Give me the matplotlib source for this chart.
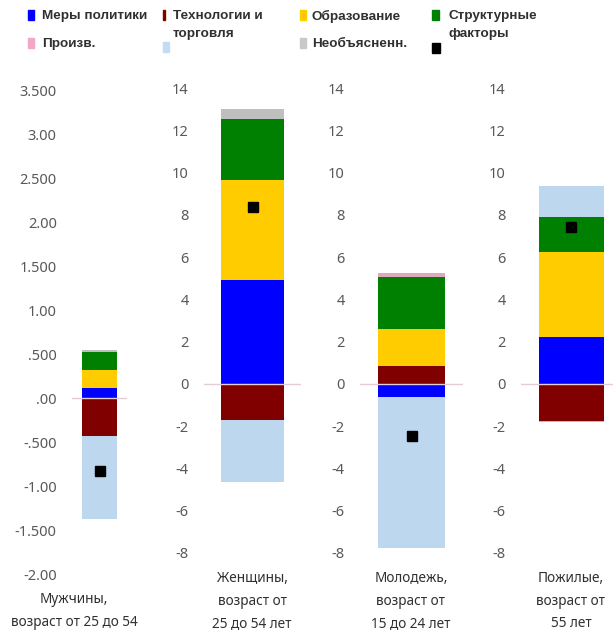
import numpy as np
import matplotlib.pyplot as plt
from matplotlib.patches import Rectangle

plt.rcParams['font.family'] = ['Noto Sans', 'DejaVu Sans']
plt.rcParams['axes.unicode_minus'] = False

# Data (percentage points)
groups = ['Мужчины,\nвозраст от 25 до 54',
          'Женщины,\nвозраст от\n25 до 54 лет',
          'Молодежь,\nвозраст от\n15 до 24 лет',
          'Пожилые,\nвозраст от\n55 лет']
policy = [0.11, 4.90, -0.63, 2.21]
tech = [-0.43, -1.72, 0.83, -1.77]
education = [0.21, 4.76, 1.79, 4.01]
structural = [0.20, 2.87, 2.42, 1.67]
productivity = [0.0, 0.0, 0.23, -0.05]
trade = [-0.95, -2.94, -7.14, 1.45]
unexplained = [0.03, 0.47, 0.0, 0.0]
total = [-0.825, 8.35, -2.45, 7.40]

series = [policy, tech, education, structural, productivity, trade, unexplained]
colors = ['#0000ff', '#800000', '#ffcc00', '#008000', '#e0a8bc', '#bdd7ee', '#bfbfbf']

W, H = 613, 631
fig = plt.figure(figsize=(W / 100, H / 100), dpi=100)

# axes boxes in pixels: x0, x1, ytop, ybottom
boxes = [(72, 127, 90, 574), (204, 301, 88, 553), (360, 463, 88, 553), (521, 621, 88, 553)]
label_x = [74, 252, 411, 571]

ticks1 = [3.5, 3.0, 2.5, 2.0, 1.5, 1.0, 0.5, 0.0, -0.5, -1.0, -1.5, -2.0]
ticklab1 = ['3.500', '3.00', '2.500', '2.00', '1.500', '1.00', '.500', '.00',
            '-.500', '-1.00', '-1.500', '-2.00']
ticks2 = list(range(-8, 15, 2))

for i in range(4):
    x0, x1, yt, yb = boxes[i]
    ax = fig.add_axes([x0 / W, 1 - yb / H, (x1 - x0) / W, (yb - yt) / H])
    pos, neg = 0.0, 0.0
    for s, c in zip(series, colors):
        v = s[i]
        if v >= 0:
            ax.bar(0, v, 0.65, bottom=pos, color=c, zorder=2)
            pos += v
        else:
            ax.bar(0, v, 0.65, bottom=neg, color=c, zorder=2)
            neg += v
    ax.axhline(0, color='#e3ccd6', lw=1, zorder=3)
    ax.plot(0, total[i], 's', color='black', ms=7, zorder=4)
    ax.set_xlim(-0.5, 0.5)
    if i == 0:
        ax.set_ylim(-2.0, 3.5)
        ax.set_yticks(ticks1)
        ax.set_yticklabels(ticklab1)
    else:
        ax.set_ylim(-8, 14)
        ax.set_yticks(ticks2)
    ax.set_xticks([])
    ax.tick_params(axis='y', length=0, pad=11, labelsize=10.5, labelcolor='#595959')
    for sp in ax.spines.values():
        sp.set_visible(False)
    ax.patch.set_alpha(0)
    ybase = 600 if i == 0 else 579
    fig.text(label_x[i] / W, 1 - (ybase - 8) / H, groups[i], ha='center', va='top',
             fontsize=9.8, color='#303030', linespacing=1.7)

# Legend drawn by hand (two rows, four columns)
leg = [
    (28, 15, 6, 10, colors[0], 'Меры политики', 42),
    (163, 15, 2, 10, colors[1], 'Технологии и\nторговля', 173),
    (300, 15, 6, 10, colors[2], 'Образование', 312),
    (432, 15, 7, 10, colors[3], 'Структурные\nфакторы', 448),
    (28, 43, 6, 10, '#f4a6c8', 'Произв.', 42),
    (163, 47, 6, 10, '#c4dcf2', '', 173),
    (300, 43, 6, 10, '#c8c8c8', 'Необъясненн.', 312),
    (432, 48, 8, 9, '#000000', '', 448),
]
for px, py, pw, ph, c, lab, tx in leg:
    fig.add_artist(Rectangle((px / W, 1 - (py + ph / 2) / H), pw / W, ph / H,
                             transform=fig.transFigure, color=c))
    if lab:
        fig.text(tx / W, 1 - (py - 5) / H, lab, ha='left', va='top', fontsize=9.7,
                 fontweight='bold', color='#303030', family=['Liberation Sans', 'DejaVu Sans'],
                 linespacing=1.7)

fig.savefig('out.png', dpi=100, facecolor='white')
